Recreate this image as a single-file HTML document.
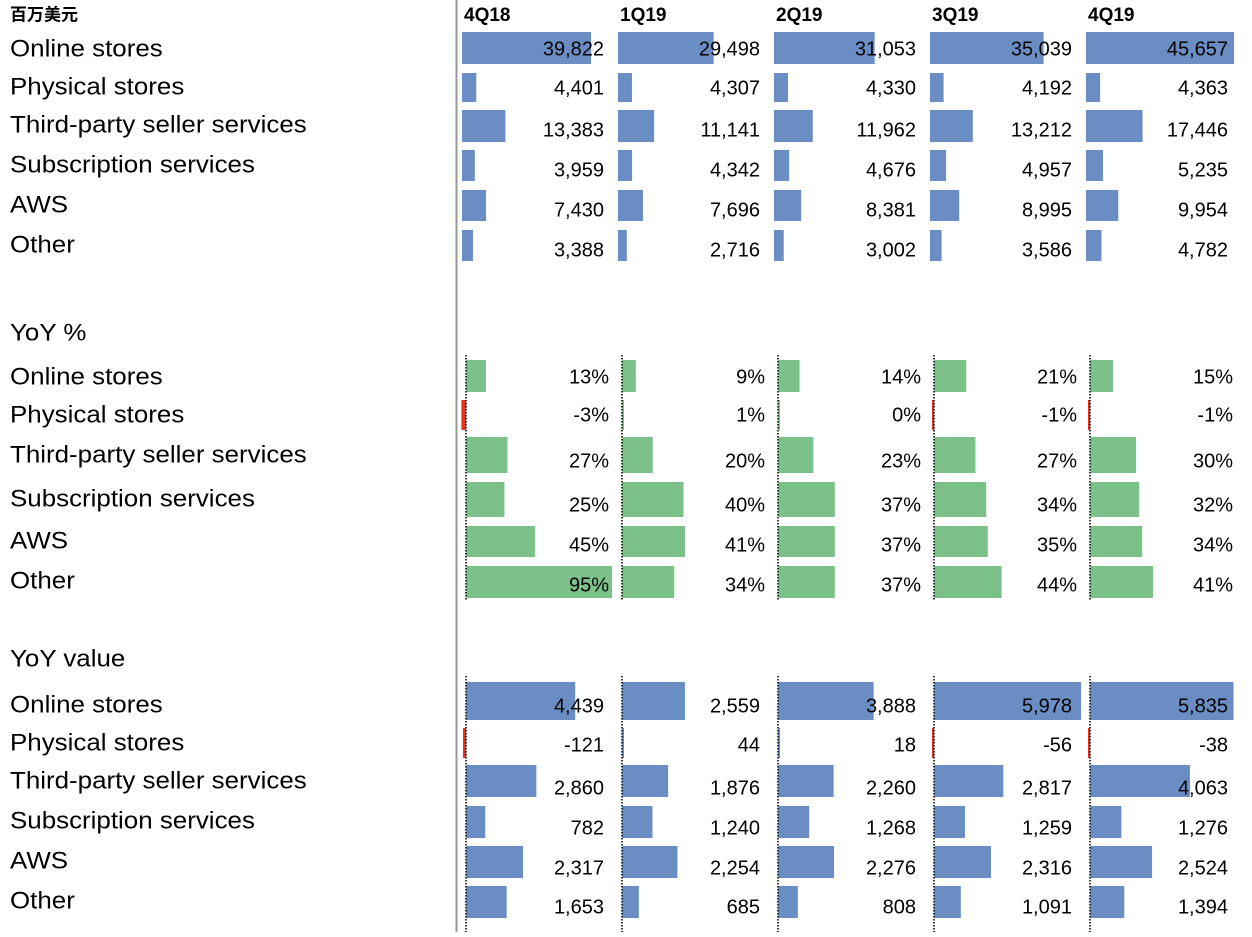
<!DOCTYPE html>
<html><head><meta charset="utf-8"><style>
body{margin:0;background:#fff;width:1252px;height:932px;overflow:hidden;font-family:"Liberation Sans","Noto Sans CJK SC",sans-serif}
svg text{font-family:"Liberation Sans","Noto Sans CJK SC",sans-serif}
</style></head><body>
<svg id="c" width="1252" height="932"></svg>
<script>
const quarters=["4Q18","1Q19","2Q19","3Q19","4Q19"];
const segments=["Online stores","Physical stores","Third-party seller services","Subscription services","AWS","Other"];
const revenue=[[39822,29498,31053,35039,45657],[4401,4307,4330,4192,4363],[13383,11141,11962,13212,17446],[3959,4342,4676,4957,5235],[7430,7696,8381,8995,9954],[3388,2716,3002,3586,4782]];
const yoyPct=[[13,9,14,21,15],[-3,1,0,-1,-1],[27,20,23,27,30],[25,40,37,34,32],[45,41,37,35,34],[95,34,37,44,41]];
const yoyVal=[[4439,2559,3888,5978,5835],[-121,44,18,-56,-38],[2860,1876,2260,2817,4063],[782,1240,1268,1259,1276],[2317,2254,2276,2316,2524],[1653,685,808,1091,1394]];
const svg=document.getElementById('c');const NS='http://www.w3.org/2000/svg';
function mk(t,a,p){const e=document.createElementNS(NS,t);for(const k in a)e.setAttribute(k,a[k]);(p||svg).appendChild(e);return e;}
function txt(x,y,s,size,anchor,weight,stretch){const e=mk('text',{x:x,y:y,'font-size':size,'text-anchor':anchor||'start','font-weight':weight||'normal',fill:'#000','dominant-baseline':'middle'});e.textContent=s;
 if(stretch){const L=e.getComputedTextLength();e.setAttribute('textLength',L*stretch);e.setAttribute('lengthAdjust','spacingAndGlyphs');}
 return e;}
const div=mk('line',{x1:456.5,y1:0,x2:456.5,y2:932,stroke:'#9a9a9a','stroke-width':2});


const unit=txt(10,16,'百万美元',17,'start','bold');


quarters.forEach((q,i)=>{const t=txt(464+156*i,16,q,19,'start','bold');

});
const colW=156;
const sections=[
 {name:'revenue',data:revenue,x0:462,scale:148/45657,color:'#6a8ec3',axis:false,valEnd:604,fmt:v=>v.toLocaleString('en-US'),
  barTop:[32,73,110,150,190,230],barH:[32,29,32,31,31,31],labY:[50,88,126,166,206,246],valY:[50,89,131,171,211,251]},
 {name:'yoy-percent',data:yoyPct,x0:466,scale:146/95,color:'#7cc18a',axis:true,axT:355,axB:600,valEnd:609,fmt:v=>v+'%',
  barTop:[360,400,437,482,526,566],barH:[32,30,36,35,31,32],labY:[378,416,456,500,542,582],valY:[378,416,462,506,546,586],
  title:'YoY %',titleY:334},
 {name:'yoy-value',data:yoyVal,x0:466,scale:0.0246,color:'#6a8ec3',axis:true,axT:676,axB:932,valEnd:604,fmt:v=>v.toLocaleString('en-US'),
  barTop:[682,728,765,806,846,886],barH:[38,30,32,32,32,32],labY:[706,744,782,822,862,902],valY:[707,746,789,829,869,908],
  title:'YoY value',titleY:660}
];
sections.forEach(s=>{
 if(s.title){const t=txt(10,s.titleY,s.title,24,'start','normal',1.08);
  
  }
 segments.forEach((seg,r)=>{const t=txt(10,s.labY[r],seg,24,'start','normal',1.08);
  
  });
 quarters.forEach((q,c)=>{
  const ax=s.x0+colW*c;
  s.data.forEach((row,r)=>{
   const v=row[c];const w=Math.max(2,Math.abs(v)*s.scale);
   const b=mk('rect',{x:v<0?ax-w:ax,y:s.barTop[r],width:w,height:s.barH[r],fill:v<0?'#e8321e':s.color});
   
   
   const t=txt(s.valEnd+colW*c,s.valY[r],s.fmt(v),20,'end');
   
   
  });
  if(s.axis){const l=mk('line',{x1:ax,y1:s.axT,x2:ax,y2:s.axB,stroke:'#000','stroke-width':1.5,'stroke-dasharray':'1.5,1.5'});
   
   }
 });
});
</script>
</body></html>
